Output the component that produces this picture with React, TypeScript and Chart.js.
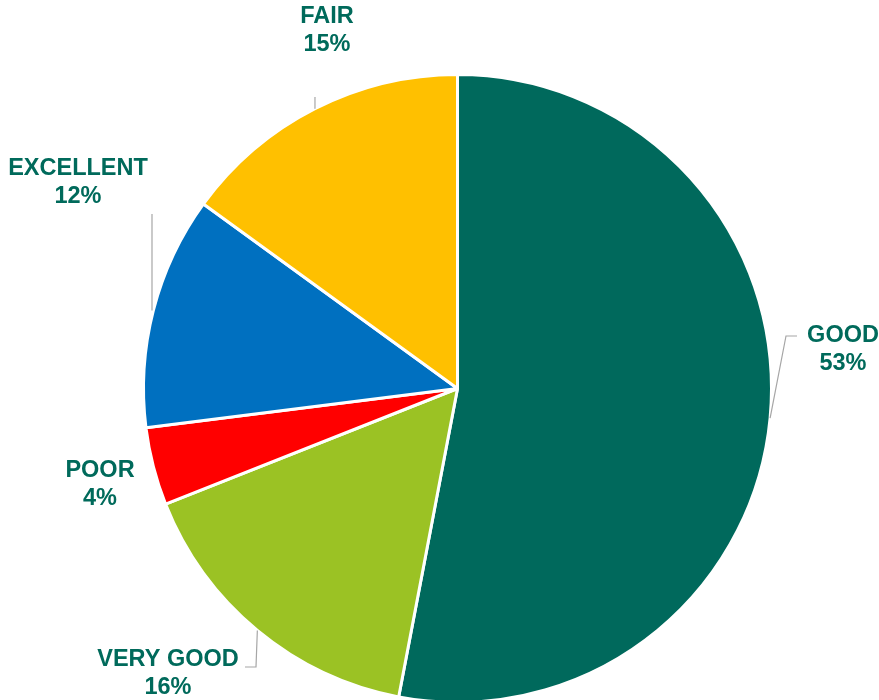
import React, { useEffect, useRef } from "react";
import { Chart, registerables } from "chart.js";

Chart.register(...registerables);

const categories = ["GOOD", "VERY GOOD", "POOR", "EXCELLENT", "FAIR"];
const values = [53, 16, 4, 12, 15];
const valueLabels = ["53%", "16%", "4%", "12%", "15%"];
const colors = ["#00695C", "#9BC224", "#FF0000", "#0070C0", "#FFC000"];

// label layout: text centre and leader elbow points (canvas px)
const labelPos: [number, number][] = [
  [843, 336],
  [168, 660],
  [100, 471],
  [78, 169],
  [327, 17],
];
const leaderPts: [number, number][][] = [
  [[786, 336], [797, 336]],
  [[256, 667], [245, 667]],
  [],
  [[152, 214]],
  [[315, 97]],
];

const labelPlugin = {
  id: "pieLabels",
  afterDraw(chart: any) {
    const ctx = chart.ctx;
    const meta = chart.getDatasetMeta(0);
    ctx.save();
    meta.data.forEach((arc: any, i: number) => {
      const { x, y, startAngle, endAngle, outerRadius } = arc.getProps(
        ["x", "y", "startAngle", "endAngle", "outerRadius"],
        true
      );
      const mid = (startAngle + endAngle) / 2;
      const px = x + Math.cos(mid) * outerRadius;
      const py = y + Math.sin(mid) * outerRadius;
      const pts = leaderPts[i];
      if (pts.length) {
        ctx.beginPath();
        ctx.strokeStyle = "#A6A6A6";
        ctx.lineWidth = 1.2;
        const sx = i === 3 ? pts[0][0] : px;
        ctx.moveTo(sx, py);
        pts.forEach((p) => ctx.lineTo(p[0], p[1]));
        ctx.stroke();
      }
      ctx.fillStyle = "#006A5B";
      ctx.font = "bold 23.5px 'Liberation Sans', Arial, sans-serif";
      ctx.textAlign = "center";
      ctx.textBaseline = "middle";
      const [lx, ly] = labelPos[i];
      ctx.fillText(categories[i], lx, ly);
      ctx.fillText(valueLabels[i], lx, ly + 28);
    });
    ctx.restore();
  },
};

export default function App() {
  const ref = useRef<HTMLCanvasElement>(null);
  useEffect(() => {
    document.body.style.margin = "0";
    const chart = new Chart(ref.current!, {
      type: "pie",
      data: {
        labels: categories,
        datasets: [
          {
            data: values,
            backgroundColor: colors,
            borderColor: "#FFFFFF",
            borderWidth: 3,
          },
        ],
      },
      options: {
        responsive: false,
        animation: false,
        layout: { padding: { left: 142, right: 106, top: 73, bottom: 0 } },
        plugins: {
          legend: { display: false },
          tooltip: { enabled: false },
        },
      },
      plugins: [labelPlugin],
    });
    return () => chart.destroy();
  }, []);
  return (
    <div style={{ width: 879, height: 700, overflow: "hidden" }}>
      <canvas ref={ref} width={879} height={704} />
    </div>
  );
}
